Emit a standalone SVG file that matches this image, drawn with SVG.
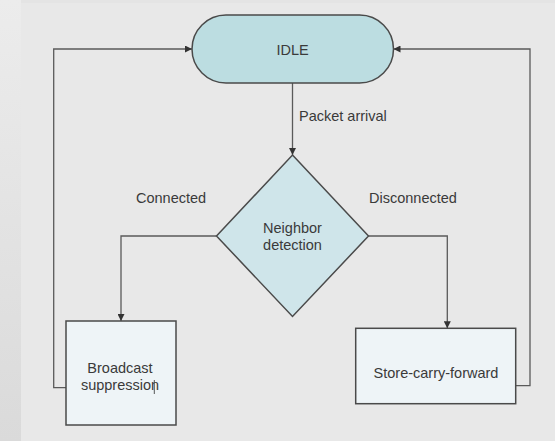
<svg xmlns="http://www.w3.org/2000/svg" width="555" height="441" viewBox="0 0 555 441">
  <defs>
    <linearGradient id="edge" x1="0" y1="0" x2="0" y2="1">
      <stop offset="0" stop-color="#ececec"/>
      <stop offset="1" stop-color="#dadada"/>
    </linearGradient>
    <marker id="arrow" viewBox="0 0 10 10" refX="10" refY="5" markerWidth="7" markerHeight="7" markerUnits="userSpaceOnUse" orient="auto">
      <path d="M0,0 L10,5 L0,10 Z" fill="#333"/>
    </marker>
  </defs>
  <style>
    .label { font-family: "Liberation Sans", Arial, sans-serif; font-size: 14.5px; fill: #3a3a3a; }
    .mid { text-anchor: middle; }
    .conn { fill: none; stroke: #5a5a5a; stroke-width: 1.3; }
    .shape { stroke: #4a4a4a; stroke-width: 1.5; }
  </style>

  <!-- page background -->
  <rect x="0" y="0" width="555" height="441" fill="#e4e4e4"/>
  <rect x="0" y="0" width="21" height="441" fill="url(#edge)"/>
  <rect x="21" y="3" width="534" height="438" fill="#e8e8e8"/>

  <!-- connectors -->
  <g id="connectors">
    <path class="conn" d="M66,387.7 H53.7 V49 H192" marker-end="url(#arrow)"/>
    <path class="conn" d="M515.7,385.6 H530 V49 H393.5" marker-end="url(#arrow)"/>
    <path class="conn" d="M292.5,83 V155" marker-end="url(#arrow)"/>
    <path class="conn" d="M216.5,236 H121 V321" marker-end="url(#arrow)"/>
    <path class="conn" d="M368.5,236 H447.3 V328.3" marker-end="url(#arrow)"/>
    <text class="label" x="299" y="120.5">Packet arrival</text>
    <text class="label" x="136" y="203">Connected</text>
    <text class="label" x="369" y="203">Disconnected</text>
  </g>

  <!-- start / idle state -->
  <g id="idle">
    <rect class="shape" x="192" y="15" width="201.5" height="68" rx="34" ry="34" fill="#bcdde1"/>
    <text class="label mid" x="292.5" y="54.5">IDLE</text>
  </g>

  <!-- decision -->
  <g id="neighbor-detection">
    <polygon class="shape" points="292.5,155 368.5,236 292.5,316.5 216.5,236" fill="#cfe5ea" stroke-width="1.3"/>
    <text class="label mid" x="292.5" y="233">Neighbor</text>
    <text class="label mid" x="292.5" y="250">detection</text>
  </g>

  <!-- connected branch -->
  <g id="broadcast-suppression">
    <rect class="shape" x="66" y="321" width="110" height="104" fill="#eef4f7"/>
    <text class="label mid" x="120" y="372.7">Broadcast</text>
    <text class="label mid" x="120" y="389.5">suppression</text>
    <line x1="154.3" y1="380" x2="154.3" y2="394" stroke="#444" stroke-width="0.9"/>
  </g>

  <!-- disconnected branch -->
  <g id="store-carry-forward">
    <rect class="shape" x="355.7" y="328.3" width="160" height="75.4" fill="#eef4f7"/>
    <text class="label mid" x="436" y="378">Store-carry-forward</text>
  </g>
</svg>
